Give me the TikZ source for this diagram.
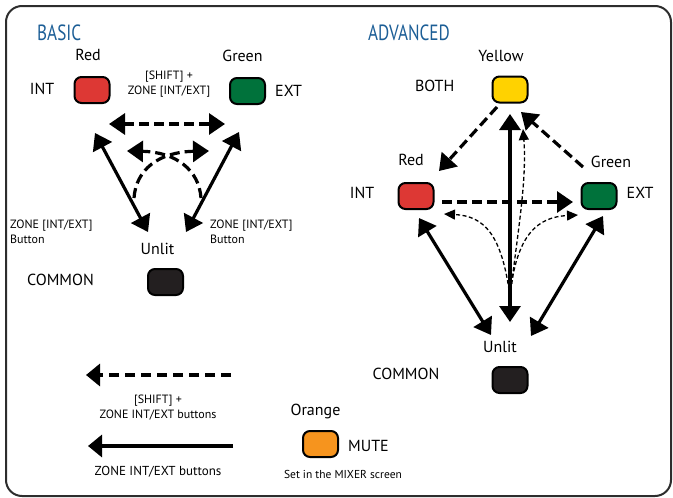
\documentclass[tikz,border=0pt]{standalone}
\usepackage{fontspec}
\setmainfont{PT Sans}
\newfontfamily\titlefont[FakeStretch=0.78]{PT Sans}
\usepackage{tikz}
\usetikzlibrary{arrows.meta, positioning}
\definecolor{titleblue}{RGB}{28,94,150}
\definecolor{lampred}{RGB}{221,56,52}
\definecolor{lampgreen}{RGB}{0,114,59}
\definecolor{lampyellow}{RGB}{255,210,0}
\definecolor{lamporange}{RGB}{246,148,30}
\definecolor{lampoff}{RGB}{35,31,32}
\definecolor{framegray}{RGB}{45,45,45}
\tikzstyle{lamp} = [draw=black, line width=2pt, rounded corners=7pt, minimum width=35pt, minimum height=26pt, inner sep=0pt]
\tikzstyle{title} = [anchor=west, inner sep=0pt, text height=16pt, text depth=0pt, text=titleblue, font=\titlefont\fontsize{22}{24}\selectfont]
\tikzstyle{tag} = [inner sep=0pt, text height=11.5pt, text depth=0pt, font=\fontsize{16}{18}\selectfont]
\tikzstyle{note} = [inner sep=0pt, align=center, font=\fontsize{12}{15}\selectfont]
\tikzstyle{both} = [line width=3.2pt, {Triangle[length=16pt,width=21pt]}-{Triangle[length=16pt,width=21pt]}]
\tikzstyle{one} = [line width=3.2pt, -{Triangle[length=16pt,width=21pt]}]
\tikzstyle{dashline} = [dash pattern=on 10pt off 5pt]
\tikzstyle{fineline} = [line width=1.3pt, dash pattern=on 4pt off 2.5pt, -{Triangle[length=11pt,width=10pt]}]
\tikzstyle{legend} = [line width=3.2pt, -{Triangle[length=14pt,width=22pt]}]

\begin{document}
\begin{tikzpicture}[x=1pt, y=-1pt]
    \useasboundingbox (0,0) rectangle (673,498);
    \draw[framegray, line width=2pt, rounded corners=16pt] (6,6) rectangle (671,496);

    \node[title] (basic) at (37,32) {BASIC};
    \node[title] (advanced) at (368,32) {ADVANCED};

    % basic
    \node[lamp, fill=lampred] (redB) at (92,90) {};
    \node[lamp, fill=lampgreen] (greenB) at (247.5,91) {};
    \node[lamp, fill=lampoff] (unlitB) at (165.5,282) {};
    \node[tag, above=15pt of redB, xshift=-4pt] (redBtag) {Red};
    \node[tag, left=19pt of redB, yshift=1pt] (intB) {INT};
    \node[tag, above=15pt of greenB, xshift=-5pt] (greenBtag) {Green};
    \node[tag, right=9pt of greenB] (extB) {EXT};
    \node[tag, above=13pt of unlitB, xshift=-8pt] (unlitBtag) {Unlit};
    \node[tag, left=53pt of unlitB, yshift=2pt] (commonB) {COMMON};
    \node[note] (shiftB) at (169,84) {[SHIFT] +\\ZONE [INT/EXT]};
    \node[note, align=left, anchor=west] (zoneL) at (10,231.5) {ZONE [INT/EXT]\\Button};
    \node[note, align=left, anchor=west] (zoneR) at (210,231.5) {ZONE [INT/EXT]\\Button};

    \coordinate (bTopL) at (109,124);
    \coordinate (bTopR) at (225,124);
    \coordinate (bLeftT) at (95,133);
    \coordinate (bLeftB) at (148,232);
    \coordinate (bRightT) at (239,132);
    \coordinate (bRightB) at (186,232);
    \coordinate (bArcL) at (134,198);
    \coordinate (bArcR) at (201,198);
    \coordinate (bTipL) at (127,151);
    \coordinate (bTipR) at (209,151);
    \draw[both, dashline] (bTopL) -- (bTopR);
    \draw[both] (bLeftT) -- (bLeftB);
    \draw[both] (bRightT) -- (bRightB);
    \draw[one, dashline] (bArcR) .. controls (199,170) and (176,152) .. (bTipL);
    \draw[one, dashline] (bArcL) .. controls (136,170) and (158,152) .. (bTipR);

    % advanced
    \node[lamp, fill=lampyellow] (yellowA) at (510,89.5) {};
    \node[lamp, fill=lampred] (redA) at (416,196) {};
    \node[lamp, fill=lampgreen] (greenA) at (599,196) {};
    \node[lamp, fill=lampoff] (unlitA) at (510,380) {};
    \node[tag, above=14pt of yellowA, xshift=-9pt] (yellowAtag) {Yellow};
    \node[tag, left=37pt of yellowA, yshift=3.5pt] (bothA) {BOTH};
    \node[tag, above=16pt of redA, xshift=-5pt] (redAtag) {Red};
    \node[tag, left=23pt of redA, yshift=3pt] (intA) {INT};
    \node[tag, above=14pt of greenA, xshift=12pt] (greenAtag) {Green};
    \node[tag, right=9pt of greenA, yshift=3pt] (extA) {EXT};
    \node[tag, above=13pt of unlitA, xshift=-10pt] (unlitAtag) {Unlit};
    \node[tag, left=52pt of unlitA, yshift=6pt] (commonA) {COMMON};

    \coordinate (aYelS) at (497,107);
    \coordinate (aRedE) at (439,171);
    \coordinate (aGrnS) at (583,167);
    \coordinate (aYelE) at (521,112);
    \coordinate (aMidS) at (442,202);
    \coordinate (aMidE) at (573,202);
    \coordinate (aVertB) at (510,322);
    \coordinate (aVertT) at (510,114);
    \coordinate (aLeftT) at (419,218);
    \coordinate (aLeftB) at (491,335);
    \coordinate (aRightT) at (603,216);
    \coordinate (aRightB) at (531,336);
    \coordinate (aFine) at (510,297);
    \coordinate (aFineL) at (444,214);
    \coordinate (aFineR) at (578,215);
    \coordinate (aFineT) at (523,129);
    \draw[one, dashline] (aYelS) -- (aRedE);
    \draw[one, dashline] (aGrnS) -- (aYelE);
    \draw[one, dashline] (aMidS) -- (aMidE);
    \draw[both] (aVertB) -- (aVertT);
    \draw[both] (aLeftT) -- (aLeftB);
    \draw[both] (aRightT) -- (aRightB);
    \draw[fineline] (aFine) .. controls (502,234) and (484,216) .. (aFineL);
    \draw[fineline] (aFine) .. controls (516,234) and (538,217) .. (aFineR);
    \draw[fineline] (aFine) .. controls (518,230) and (527,180) .. (aFineT);

    % legend
    \coordinate (legDashS) at (231,375);
    \coordinate (legDashE) at (86,375);
    \coordinate (legLineS) at (233,446);
    \coordinate (legLineE) at (88,446);
    \draw[legend, dash pattern=on 10pt off 6pt] (legDashS) -- (legDashE);
    \draw[legend] (legLineS) -- (legLineE);
    \node[note] (legDash) at (158,407.5) {[SHIFT] +\\ZONE INT/EXT buttons};
    \node[note, font=\fontsize{13}{15}\selectfont] (legLine) at (158,472) {ZONE INT/EXT buttons};

    \node[lamp, fill=lamporange] (orangeL) at (320.5,444) {};
    \node[tag, above=14pt of orangeL, xshift=-5pt] (orangeLtag) {Orange};
    \node[tag, right=9pt of orangeL, yshift=-2pt] (muteL) {MUTE};
    \node[note, font=\fontsize{11.5}{13}\selectfont] (mixerL) at (343,474) {Set in the MIXER screen};
\end{tikzpicture}
\end{document}
